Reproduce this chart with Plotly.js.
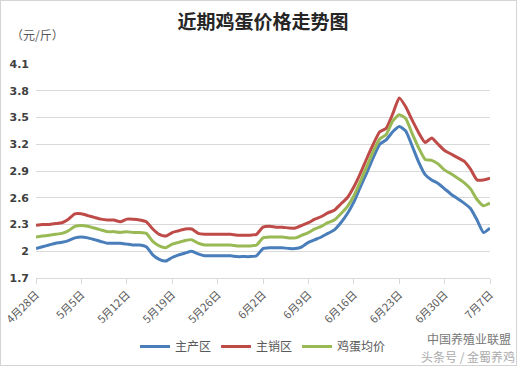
<!DOCTYPE html>
<html><head><meta charset="utf-8">
<script src="https://cdn.plot.ly/plotly-3.0.1.min.js"></script>
<style>body{margin:0;background:#fff}#c{width:515px;height:364px;border:1px solid #d4d4d4}</style>
</head><body><div id="c"></div>
<script>
const startDate = '2017-04-28';
const nDays = 71;
const tickLabels = ['4月28日','5月5日','5月12日','5月19日','5月26日','6月2日','6月9日','6月16日','6月23日','6月30日','7月7日'];
const seriesNames = ['主产区','主销区','鸡蛋均价'];
const mainProduce = [2.03,2.05,2.07,2.09,2.10,2.12,2.15,2.16,2.15,2.13,2.11,2.09,2.09,2.09,2.08,2.07,2.07,2.05,1.96,1.91,1.89,1.93,1.96,1.98,2.00,1.97,1.95,1.95,1.95,1.95,1.95,1.94,1.94,1.94,1.95,2.03,2.04,2.04,2.04,2.03,2.03,2.05,2.10,2.13,2.16,2.20,2.24,2.32,2.42,2.55,2.72,2.88,3.05,3.20,3.25,3.34,3.40,3.35,3.18,3.00,2.86,2.80,2.76,2.70,2.64,2.59,2.54,2.48,2.35,2.21,2.26];
const mainSales = [2.29,2.30,2.30,2.31,2.32,2.36,2.42,2.42,2.40,2.38,2.36,2.35,2.35,2.33,2.36,2.36,2.35,2.33,2.25,2.19,2.17,2.21,2.23,2.25,2.25,2.20,2.19,2.19,2.19,2.19,2.19,2.18,2.18,2.18,2.19,2.27,2.28,2.27,2.27,2.26,2.26,2.29,2.32,2.36,2.39,2.43,2.46,2.53,2.60,2.72,2.87,3.04,3.20,3.34,3.38,3.54,3.72,3.62,3.47,3.33,3.22,3.27,3.20,3.13,3.09,3.05,3.01,2.92,2.80,2.80,2.82];
const avgPrice = [2.16,2.17,2.18,2.19,2.20,2.23,2.28,2.29,2.28,2.26,2.24,2.22,2.22,2.21,2.22,2.21,2.21,2.20,2.11,2.06,2.04,2.08,2.10,2.12,2.13,2.09,2.07,2.07,2.07,2.07,2.07,2.06,2.06,2.06,2.07,2.15,2.16,2.16,2.16,2.15,2.15,2.18,2.21,2.25,2.28,2.32,2.35,2.42,2.50,2.62,2.78,2.95,3.12,3.26,3.31,3.46,3.53,3.49,3.32,3.16,3.03,3.02,2.98,2.91,2.87,2.82,2.77,2.70,2.58,2.51,2.54];

function fmt(d){return d.toISOString().slice(0,10);}
const dates = [];
const base = new Date(startDate+'T00:00:00Z');
for (let i=0;i<nDays;i++){dates.push(fmt(new Date(base.getTime()+i*86400000)));}
const tickVals = [];
for (let i=0;i<tickLabels.length;i++){tickVals.push(dates[i*7]);}

const colors = ['#4a7ebb','#be4b48','#98b954'];
const ys = [mainProduce, mainSales, avgPrice];
const font = "'Noto Sans CJK SC', 'Noto Sans', sans-serif";
const traces = ys.map((y,i)=>({x:dates,y:y,name:seriesNames[i],type:'scatter',mode:'lines',
  line:{color:colors[i],width:3,shape:'spline',smoothing:0.5}}));

const layout = {
  width:515,height:364,
  margin:{l:35,r:26,t:63,b:87,autoexpand:false},
  paper_bgcolor:'#fff',plot_bgcolor:'#fff',
  font:{family:font,color:'#595959'},
  title:{text:'近期鸡蛋价格走势图',x:0.5,xref:'paper',y:0.94,yref:'container',yanchor:'middle',
    font:{family:font,size:19,color:'#262626',weight:'bold'}},
  xaxis:{type:'date',range:[dates[0],dates[nDays-1]],tickvals:tickVals,ticktext:tickLabels,automargin:false,
    tickangle:-45,ticks:'outside',ticklen:5,tickcolor:'#d9d9d9',showgrid:false,
    showline:true,linecolor:'#d9d9d9',linewidth:1,tickfont:{size:11,color:'#595959',family:font},zeroline:false},
  yaxis:{range:[1.7,4.1],tickvals:[1.7,2,2.3,2.6,2.9,3.2,3.5,3.8,4.1],ticktext:['1.7','2','2.3','2.6','2.9','3.2','3.5','3.8','4.1'],
    showgrid:true,gridcolor:'#d9d9d9',gridwidth:1,zeroline:false,showline:false,ticks:'',ticklabelstandoff:6,automargin:false,
    tickfont:{size:11,color:'#404040',family:"'DejaVu Sans', sans-serif",weight:'bold'}},
  legend:{orientation:'h',x:0.5,xanchor:'center',y:-0.32,yanchor:'middle',font:{size:12,color:'#595959',family:font},
    itemwidth:30,tracegroupgap:0},
  annotations:[
    {text:'（元/斤）',xref:'paper',yref:'paper',x:-0.06,y:1.14,xanchor:'left',yanchor:'middle',showarrow:false,
      font:{size:12,color:'#595959',family:font}},
    {text:'中国养殖业联盟',xref:'paper',yref:'paper',x:1.05,y:-0.285,xanchor:'right',yanchor:'middle',showarrow:false,
      font:{size:12,color:'#777',family:font}},
    {text:'头条号 / 金蜀养鸡',xref:'paper',yref:'paper',x:1.06,y:-0.365,xanchor:'right',yanchor:'middle',showarrow:false,
      font:{size:12,color:'#aaa',family:font}}
  ]
};
Plotly.newPlot('c',traces,layout,{displayModeBar:false,staticPlot:true});
</script></body></html>
